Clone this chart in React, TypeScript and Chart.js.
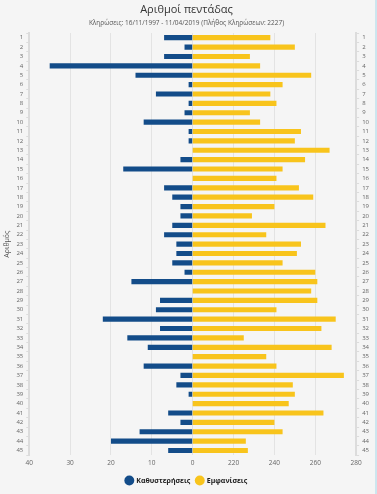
import React, { useEffect, useRef } from "react";
import { Chart, registerables } from "chart.js";
Chart.register(...registerables);

const numbers = ["1","2","3","4","5","6","7","8","9","10","11","12","13","14","15","16","17","18","19","20","21","22","23","24","25","26","27","28","29","30","31","32","33","34","35","36","37","38","39","40","41","42","43","44","45"];
const delays = [7,2,7,35,14,1,9,1,2,12,1,1,0,3,17,0,7,5,3,3,5,7,4,4,5,2,15,0,8,9,22,8,16,11,0,12,3,4,1,0,6,3,13,20,6];
const appearances = [238,250,228,233,258,244,238,241,228,233,253,250,267,255,244,241,252,259,240,229,265,236,253,251,244,260,261,258,261,241,270,263,225,268,236,241,274,249,250,247,264,240,244,226,227];
const appearanceBase = 200;
// bottom axis: positions on the delay scale (reversed) and the labels shown there, left to right
const axisValues = [40, 30, 20, 10, 0, -10, -20, -30, -40];
const bottomAxisLabels = ["40", "30", "20", "10", "0", "220", "240", "260", "280"];

const titleText = "Αριθμοί πεντάδας";
const subtitleText = "Κληρώσεις: 16/11/1997 - 11/04/2019 (Πλήθος Κληρώσεων: 2227)";
const delaysLabel = "Καθυστερήσεις";
const appearancesLabel = "Εμφανίσεις";
const yTitle = "Αριθμός";

const BLUE = "#134c89";
const YELLOW = "#f8c41c";
const FONT = "'Open Sans', 'DejaVu Sans', sans-serif";

export default function App() {
  const ref = useRef<HTMLCanvasElement | null>(null);
  useEffect(() => {
    document.body.style.margin = "0";
    const ctx = ref.current!;
    const chart = new Chart(ctx, {
      type: "bar",
      data: {
        labels: numbers,
        datasets: [
          {
            label: delaysLabel,
            data: delays,
            backgroundColor: BLUE,
            xAxisID: "x",
            yAxisID: "y",
            grouped: false,
            barPercentage: 0.55,
            categoryPercentage: 1,
          },
          {
            label: appearancesLabel,
            data: appearances.map((v) => [appearanceBase, v]),
            backgroundColor: YELLOW,
            xAxisID: "x2",
            yAxisID: "y",
            grouped: false,
            barPercentage: 0.55,
            categoryPercentage: 1,
          },
        ],
      },
      options: {
        indexAxis: "y",
        animation: false,
        responsive: false,
        maintainAspectRatio: false,
        layout: { padding: { left: 1, right: 3, top: 3, bottom: 0 } },
        plugins: {
          title: {
            display: true,
            text: titleText,
            color: "#333",
            font: { family: FONT, size: 11, weight: "normal" },
            padding: { top: 0, bottom: 3 },
          },
          subtitle: {
            display: true,
            text: subtitleText,
            color: "#555",
            font: { family: FONT, size: 6.5 },
            padding: { top: 0, bottom: 6 },
          },
          legend: {
            position: "bottom",
            labels: {
              usePointStyle: true,
              pointStyle: "circle",
              boxWidth: 7,
              boxHeight: 7,
              padding: 6,
              color: "#222",
              font: { family: FONT, size: 7, weight: "bold" },
            },
          },
          tooltip: { enabled: false },
        },
        scales: {
          x: {
            type: "linear",
            position: "bottom",
            reverse: true,
            min: -40,
            max: 40,
            afterBuildTicks: (s: any) => {
              s.ticks = axisValues.map((value) => ({ value }));
            },
            ticks: {
              autoSkip: false,
              color: "#666",
              font: { family: FONT, size: 6.5 },
              padding: 4,
              maxRotation: 0,
              callback: (v: any) => bottomAxisLabels[axisValues.indexOf(Number(v))],
            },
            grid: { color: "#e3e3e3", lineWidth: 1, drawTicks: false },
            border: { display: false },
          },
          x2: {
            type: "linear",
            display: false,
            min: 120,
            max: 280,
            grid: { display: false },
          },
          y: {
            type: "category",
            position: "left",
            ticks: { color: "#666", font: { family: FONT, size: 6 }, padding: 3, autoSkip: false },
            grid: { display: true, drawOnChartArea: false, color: "#dcdcdc", tickLength: 3 },
            border: { display: true, color: "#dcdcdc", width: 2 },
            title: { display: true, text: yTitle, color: "#555", font: { family: FONT, size: 7 }, padding: 2 },
          },
          y2: {
            type: "category",
            position: "right",
            labels: numbers,
            ticks: { color: "#666", font: { family: FONT, size: 6 }, padding: 3, autoSkip: false },
            grid: { display: true, drawOnChartArea: false, color: "#dcdcdc", tickLength: 3 },
            border: { display: true, color: "#dcdcdc", width: 2 },
          },
        },
      },
    });
    return () => chart.destroy();
  }, []);
  return (
    <div style={{ width: 377, height: 494, background: "#f5f5f5", boxSizing: "border-box", borderRight: "2px solid #cde6ef", position: "relative" }}>
      <canvas ref={ref} width={375} height={494} style={{ display: "block" }} />
    </div>
  );
}
